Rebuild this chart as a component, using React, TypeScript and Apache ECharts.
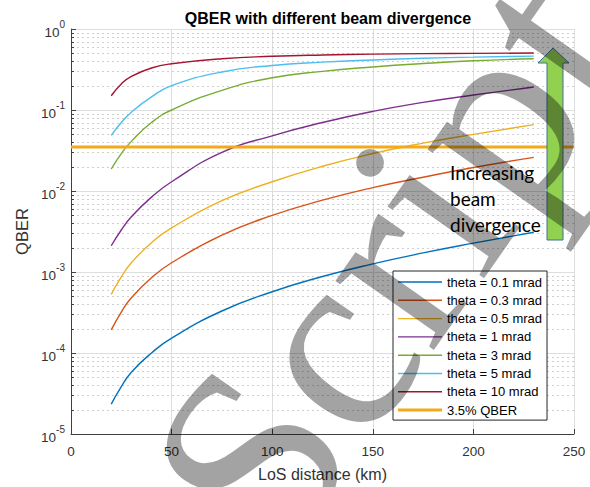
import React, { useEffect, useRef } from 'react';
import * as echarts from 'echarts';

// LoS distance (km)
const distances = [20, 25, 30, 40, 50, 75, 100, 125, 150, 175, 200, 230];
// QBER per beam divergence
const theta01 = [2.34e-5, 3.85e-5, 5.8e-5, 1.0e-4, 1.53e-4, 3.3e-4, 5.7e-4, 8.8e-4, 1.26e-3, 1.72e-3, 2.27e-3, 3.1e-3];
const theta03 = [1.93e-4, 3.2e-4, 4.8e-4, 8.5e-4, 1.3e-3, 2.85e-3, 5.0e-3, 7.7e-3, 1.1e-2, 1.48e-2, 1.95e-2, 2.6e-2];
const theta05 = [5.3e-4, 8.7e-4, 1.3e-3, 2.3e-3, 3.5e-3, 7.6e-3, 1.3e-2, 2.02e-2, 2.9e-2, 3.9e-2, 5.0e-2, 6.6e-2];
const theta1 = [2.11e-3, 3.3e-3, 4.8e-3, 8.4e-3, 1.3e-2, 3.0e-2, 4.8e-2, 7.0e-2, 9.6e-2, 1.24e-1, 1.53e-1, 1.92e-1];
const theta3 = [1.87e-2, 2.9e-2, 4.1e-2, 7.0e-2, 1.0e-1, 1.75e-1, 2.5e-1, 3.0e-1, 3.4e-1, 3.75e-1, 4.05e-1, 4.3e-1];
const theta5 = [4.87e-2, 7.0e-2, 9.4e-2, 1.45e-1, 2.0e-1, 2.95e-1, 3.55e-1, 3.9e-1, 4.15e-1, 4.35e-1, 4.5e-1, 4.62e-1];
const theta10 = [1.5e-1, 2.1e-1, 2.6e-1, 3.3e-1, 3.72e-1, 4.3e-1, 4.6e-1, 4.78e-1, 4.89e-1, 4.96e-1, 5.0e-1, 5.05e-1];
const seriesNames = [
  'theta = 0.1 mrad',
  'theta = 0.3 mrad',
  'theta = 0.5 mrad',
  'theta = 1 mrad',
  'theta = 3 mrad',
  'theta = 5 mrad',
  'theta = 10 mrad',
];
const seriesValues = [theta01, theta03, theta05, theta1, theta3, theta5, theta10];
const seriesColors = ['#0072BD', '#D95319', '#EDB120', '#7E2F8E', '#77AC30', '#4DBEEE', '#A2142F'];
const thresholdName = '3.5% QBER';
const thresholdValue = 0.035;
const thresholdRange = [0, 250];
const xTicks = [0, 50, 100, 150, 200, 250];
const yMin = 1e-5;
const yMax = 1;

const thinIcon = 'path://M0,0L0.01,0L0,0.01Z M0,6.3L44,6.3L44,7.7L0,7.7Z M44,14L43.99,14L44,13.99Z';
const thickIcon = 'path://M0,0L0.01,0L0,0.01Z M0,5.5L44,5.5L44,8.5L0,8.5Z M44,14L43.99,14L44,13.99Z';

export default function App() {
  const ref = useRef<HTMLDivElement>(null);
  useEffect(() => {
    if (!ref.current) return;
    const chart = echarts.init(ref.current, undefined, { renderer: 'svg' });
    const textColor = '#333333';
    const minorVals: number[] = [];
    for (let e = -5; e < 0; e++) {
      for (let m = 2; m <= 9; m++) minorVals.push(m * Math.pow(10, e));
    }
    const lineSeries = seriesNames.map((name, i) => ({
      name,
      type: 'line',
      data: distances.map((d, j) => [d, seriesValues[i][j]]),
      smooth: 0.5,
      symbol: 'none',
      showSymbol: false,
      lineStyle: { width: 1.4, color: seriesColors[i] },
      itemStyle: { color: seriesColors[i] },
      z: 3,
    }));
    const option: any = {
      animation: false,
      title: {
        text: 'QBER with different beam divergence',
        left: 323,
        top: 5,
        textAlign: 'center',
        textStyle: { fontFamily: 'Liberation Sans', fontSize: 16, fontWeight: 'bold', color: '#000' },
      },
      grid: { left: 71, right: 16, top: 29, bottom: 53, containLabel: false },
      legend: {
        orient: 'vertical',
        left: 393,
        top: 271,
        padding: [4, 5, 3, 5],
        itemWidth: 44,
        itemHeight: 14,
        itemGap: 4.3,
        backgroundColor: '#fff',
        borderColor: '#262626',
        borderWidth: 1,
        borderRadius: 0,
        textStyle: { fontFamily: 'Liberation Sans', fontSize: 13, color: '#000', lineHeight: 14 },
        data: [
          ...seriesNames.map((n) => ({ name: n, icon: thinIcon })),
          { name: thresholdName, icon: thickIcon },
        ],
        z: 10,
      },
      xAxis: {
        type: 'value',
        min: 0,
        max: 250,
        interval: 50,
        name: 'LoS distance (km)',
        nameLocation: 'middle',
        nameGap: 32,
        nameTextStyle: { fontFamily: 'Liberation Sans', fontSize: 16, color: textColor },
        axisLine: { show: true, lineStyle: { color: '#404040', width: 1 } },
        axisTick: { show: true, inside: true, length: 5, lineStyle: { color: '#404040' } },
        axisLabel: {
          fontFamily: 'Liberation Sans',
          fontSize: 13.5,
          color: textColor,
          margin: 10,
          formatter: (v: number) => (xTicks.includes(v) ? String(v) : ''),
        },
        splitLine: { show: true, lineStyle: { color: '#dedede', width: 1 } },
      },
      yAxis: {
        type: 'log',
        logBase: 10,
        min: yMin,
        max: yMax,
        name: 'QBER',
        nameLocation: 'middle',
        nameGap: 40,
        nameTextStyle: { fontFamily: 'Liberation Sans', fontSize: 16.5, color: textColor },
        axisLine: { show: true, lineStyle: { color: '#404040', width: 1 } },
        axisTick: { show: true, inside: true, length: 5, lineStyle: { color: '#404040' } },
        axisLabel: {
          margin: 6,
          formatter: (v: number) => {
            const e = Math.round(Math.log10(v));
            return `{b|10}{s|${e}}`;
          },
          rich: {
            b: { fontFamily: 'Liberation Sans', fontSize: 13.5, color: textColor, verticalAlign: 'bottom', lineHeight: 20 },
            s: { fontFamily: 'Liberation Sans', fontSize: 10, color: textColor, verticalAlign: 'top', lineHeight: 20 },
          },
        },
        splitLine: { show: true, lineStyle: { color: '#dedede', width: 1 } },
      },
      series: [
        {
          name: '__minor',
          type: 'custom',
          silent: true,
          data: minorVals.map((v) => [0, v]),
          renderItem: (params: any, api: any) => {
            const v = api.value(1);
            const p0 = api.coord([0, v]);
            const p1 = api.coord([250, v]);
            const y = Math.round(p0[1]) + 0.5;
            return {
              type: 'group',
              children: [
                {
                  type: 'line',
                  shape: { x1: p0[0] + 1, y1: y, x2: p1[0], y2: y },
                  style: { stroke: '#cfcfcf', lineWidth: 1, lineDash: [2, 3] },
                },
                {
                  type: 'line',
                  shape: { x1: p0[0], y1: y, x2: p0[0] + 3, y2: y },
                  style: { stroke: '#404040', lineWidth: 1 },
                },
              ],
            };
          },
          z: 1,
        },
        ...lineSeries,
        {
          name: thresholdName,
          type: 'line',
          data: thresholdRange.map((d) => [d, thresholdValue]),
          symbol: 'none',
          showSymbol: false,
          lineStyle: { width: 3, color: '#F2AA1A' },
          itemStyle: { color: '#F2AA1A' },
          z: 4,
        },
      ],
      graphic: [
        {
          type: 'polygon',
          z: 20,
          shape: {
            points: [
              [553, 48],
              [569, 63],
              [563, 63],
              [563, 240],
              [547, 240],
              [547, 63],
              [538, 63],
            ],
          },
          style: { fill: '#92D050', stroke: '#41719C', lineWidth: 1 },
        },
        {
          type: 'text',
          z: 20,
          left: 450,
          top: 159,
          style: {
            text: 'Increasing\nbeam\ndivergence',
            font: '19px Lato',
            fill: '#000',
            lineHeight: 26,
          },
        },
        {
          type: 'text',
          z: 30,
          x: 388,
          y: 262,
          rotation: (55 * Math.PI) / 180,
          silent: true,
          style: {
            text: 'Script',
            font: '262px "Liberation Serif"',
            fill: 'rgba(0,0,0,0.36)',
            align: 'center',
            verticalAlign: 'middle',
          },
        },
      ],
    };
    chart.setOption(option);
    return () => chart.dispose();
  }, []);
  return <div ref={ref} style={{ position: 'fixed', left: 0, top: 0, width: 590, height: 487, background: '#fff' }} />;
}
